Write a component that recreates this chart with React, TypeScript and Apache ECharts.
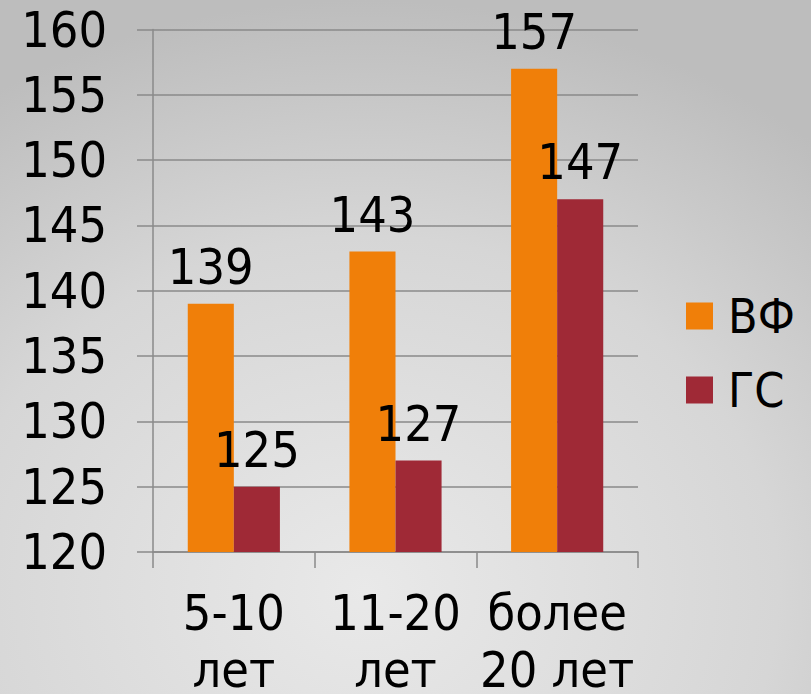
import React, { useEffect, useRef } from "react";
import * as echarts from "echarts";

const categories = ["5-10\nлет", "11-20\nлет", "более\n20 лет"];
const seriesNames = ["ВФ", "ГС"];
const vfValues = [139, 143, 157];
const gsValues = [125, 127, 147];
const yTicks = { min: 120, max: 160, interval: 5 };

const FONT = "'DejaVu Sans Condensed', 'DejaVu Sans', sans-serif";

export default function App() {
  const ref = useRef<HTMLDivElement>(null);
  useEffect(() => {
    if (!ref.current) return;
    const chart = echarts.init(ref.current, undefined, { renderer: "svg" });
    const label = {
      show: true,
      position: "top",
      distance: 12,
      fontSize: 50,
      fontFamily: FONT,
      color: "#000",
    };
    chart.setOption({
      animation: false,
      backgroundColor: new echarts.graphic.RadialGradient(0.45, 0.85, 0.85, [
        { offset: 0, color: "#e9e9e9" },
        { offset: 0.6, color: "#d6d6d6" },
        { offset: 1, color: "#bdbdbd" },
      ]),
      grid: {
        left: 153,
        right: 173,
        top: 29.5,
        bottom: 142,
        containLabel: false,
        outerBoundsMode: "none",
      },
      legend: {
        orient: "vertical",
        left: 686,
        top: 292,
        padding: 0,
        icon: "rect",
        itemWidth: 27,
        itemHeight: 27,
        itemGap: 26,
        data: seriesNames,
        textStyle: {
          fontSize: 48,
          lineHeight: 48,
          fontFamily: FONT,
          color: "#000",
          padding: [0, 0, 0, 10],
        },
      },
      xAxis: {
        type: "category",
        data: categories,
        axisLine: { show: true, lineStyle: { color: "#8a8a8a", width: 1.5 } },
        axisTick: { show: true, length: 16, lineStyle: { color: "#8a8a8a", width: 1.5 } },
        axisLabel: {
          fontSize: 50,
          lineHeight: 57,
          fontFamily: FONT,
          color: "#000",
          margin: 32,
          interval: 0,
        },
      },
      yAxis: {
        type: "value",
        min: yTicks.min,
        max: yTicks.max,
        interval: yTicks.interval,
        axisLine: { show: true, lineStyle: { color: "#8a8a8a", width: 1.5 } },
        axisTick: { show: true, length: 16, lineStyle: { color: "#8a8a8a", width: 1.5 } },
        splitLine: { show: true, lineStyle: { color: "#8a8a8a", width: 1.5 } },
        axisLabel: {
          fontSize: 50,
          fontFamily: FONT,
          color: "#000",
          margin: 46,
        },
      },
      series: [
        {
          name: seriesNames[0],
          type: "bar",
          data: vfValues,
          itemStyle: { color: "#F07F09" },
          barGap: "0%",
          barCategoryGap: "43%",
          label,
        },
        {
          name: seriesNames[1],
          type: "bar",
          data: gsValues,
          itemStyle: { color: "#9F2936" },
          barGap: "0%",
          barCategoryGap: "43%",
          label,
        },
      ],
    });
    return () => chart.dispose();
  }, []);
  return <div ref={ref} style={{ width: 811, height: 694, position: "absolute", left: 0, top: 0 }} />;
}
